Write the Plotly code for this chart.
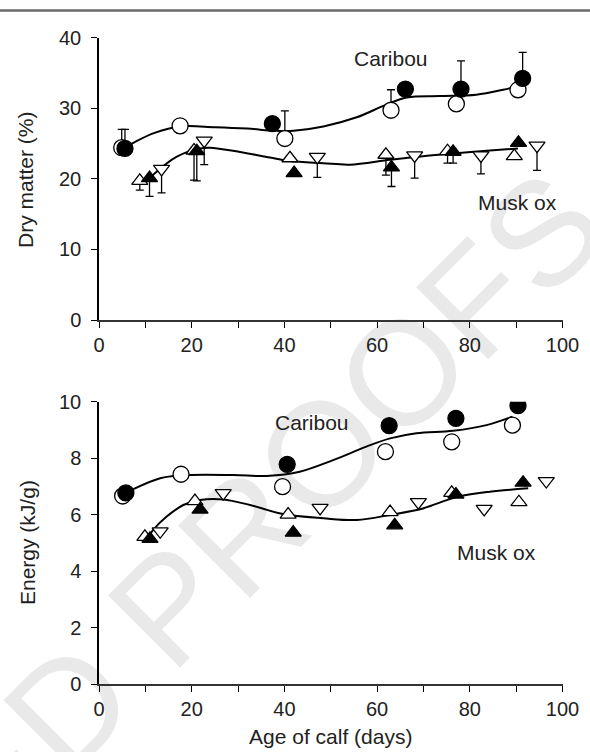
import plotly.graph_objects as go

W, H = 590, 752
FONT = "Liberation Sans, Arial, sans-serif"

# ---------------- data: dry matter (top panel) ----------------
dm_car_fill_x = [5.6, 37.4, 66.1, 78.1, 91.4]
dm_car_fill_y = [24.3, 27.8, 32.7, 32.7, 34.2]
dm_car_fill_up = [2.7, 0, 0, 4.0, 3.7]

dm_car_open_x = [4.9, 17.5, 40.1, 63.0, 77.1, 90.4]
dm_car_open_y = [24.4, 27.5, 25.7, 29.7, 30.6, 32.6]
dm_car_open_up = [2.6, 0, 3.9, 2.9, 0, 0]

dm_mo_tri_x = [10.9, 21.1, 42.1, 63.1, 76.4, 90.5]
dm_mo_tri_y = [20.1, 23.9, 20.8, 21.6, 23.8, 25.1]
dm_mo_tri_dn = [2.6, 4.2, 0, 2.7, 1.6, 0]

dm_mo_up_x = [8.8, 20.5, 41.2, 61.9, 75.2, 89.6]
dm_mo_up_y = [19.7, 24.0, 22.9, 23.4, 23.9, 23.2]
dm_mo_up_dn = [1.3, 4.2, 0, 2.9, 1.7, 0]

dm_mo_dn_x = [13.5, 22.7, 47.1, 68.1, 82.4, 94.5]
dm_mo_dn_y = [21.4, 25.4, 23.1, 23.3, 23.3, 24.7]
dm_mo_dn_dn = [3.4, 3.4, 2.9, 3.2, 2.6, 3.5]

dm_car_fit_x = [5.6, 8, 12, 17.5, 25, 32, 38, 42, 48.4, 55.6, 62, 66.4, 73.5, 81.4, 87.2, 90.4]
dm_car_fit_y = [24.4, 25.3, 26.5, 27.4, 27.3, 27.1, 26.8, 26.8, 27.4, 28.7, 30.5, 31.5, 31.7, 31.9, 32.6, 33.1]

dm_mo_fit_x = [11.5, 12.1, 16.7, 21.8, 23.9, 30.4, 36.9, 41.2, 48.4, 54.1, 62.8, 69.9, 77.1, 84.3, 90.4]
dm_mo_fit_y = [20.4, 20.8, 23.1, 24.3, 24.4, 23.8, 23.0, 22.5, 22.2, 22.0, 22.7, 23.2, 23.6, 24.0, 24.3]

# ---------------- data: energy (bottom panel) ----------------
en_car_fill_x = [5.8, 40.6, 62.6, 77.0, 90.4]
en_car_fill_y = [6.77, 7.78, 9.15, 9.41, 9.86]

en_car_open_x = [5.1, 17.7, 39.6, 61.8, 76.1, 89.2]
en_car_open_y = [6.66, 7.43, 6.99, 8.23, 8.58, 9.17]

en_mo_tri_x = [11.0, 21.8, 41.9, 63.8, 77.0, 91.5]
en_mo_tri_y = [5.14, 6.18, 5.36, 5.62, 6.71, 7.13]

en_mo_up_x = [9.9, 20.7, 40.8, 62.8, 76.1, 90.6]
en_mo_up_y = [5.21, 6.48, 6.00, 6.09, 6.77, 6.44]

en_mo_dn_x = [13.2, 26.8, 47.7, 68.9, 83.1, 96.5]
en_mo_dn_y = [5.41, 6.76, 6.24, 6.44, 6.20, 7.19]

en_car_fit_x = [5.8, 7.4, 13.2, 17.7, 29, 36.2, 43.3, 50.5, 57.7, 62.8, 68.5, 76.4, 83.6, 89.2]
en_car_fit_y = [6.75, 6.90, 7.29, 7.39, 7.40, 7.37, 7.52, 7.93, 8.41, 8.70, 8.88, 8.97, 9.17, 9.47]

en_mo_fit_x = [11.0, 11.7, 14.6, 18.2, 21.8, 26.8, 32.6, 39.7, 48.4, 55.6, 62.8, 69.9, 77.1, 84.3, 92.6]
en_mo_fit_y = [5.30, 5.46, 5.93, 6.34, 6.52, 6.54, 6.34, 6.02, 5.87, 5.81, 5.99, 6.22, 6.62, 6.81, 6.93]

x_ticks = [0, 10, 20, 30, 40, 50, 60, 70, 80, 90, 100]
x_ticktext = ["0", "", "20", "", "40", "", "60", "", "80", "", "100"]
dm_ticks = [0, 10, 20, 30, 40]
en_ticks = [0, 2, 4, 6, 8, 10]


def px(x):
    return x / W


def py(y):
    return 1 - y / H


fig = go.Figure()


def curve(x, y, xa, ya):
    fig.add_trace(go.Scatter(x=x, y=y, mode="lines", xaxis=xa, yaxis=ya,
                             line=dict(color="black", width=2, shape="spline", smoothing=1.0),
                             hoverinfo="skip", showlegend=False))


def pts(x, y, symbol, filled, xa, ya, size, up=None, dn=None):
    err = None
    if up is not None or dn is not None:
        n = len(x)
        err = dict(type="data", symmetric=False,
                   array=up if up is not None else [0] * n,
                   arrayminus=dn if dn is not None else [0] * n,
                   color="black", thickness=1.3, width=4)
    fig.add_trace(go.Scatter(x=x, y=y, mode="markers", xaxis=xa, yaxis=ya,
                             marker=dict(symbol=symbol, size=size,
                                         color="black" if filled else "white",
                                         line=dict(color="black", width=1.3)),
                             error_y=err, showlegend=False))


CS, TS = 16, 14

# top panel
curve(dm_car_fit_x, dm_car_fit_y, "x", "y")
curve(dm_mo_fit_x, dm_mo_fit_y, "x", "y")
pts(dm_car_open_x, dm_car_open_y, "circle", False, "x", "y", CS, up=dm_car_open_up)
pts(dm_car_fill_x, dm_car_fill_y, "circle", True, "x", "y", CS, up=dm_car_fill_up)
pts(dm_mo_up_x, dm_mo_up_y, "triangle-up", False, "x", "y", TS, dn=dm_mo_up_dn)
pts(dm_mo_dn_x, dm_mo_dn_y, "triangle-down", False, "x", "y", TS, dn=dm_mo_dn_dn)
pts(dm_mo_tri_x, dm_mo_tri_y, "triangle-up", True, "x", "y", TS, dn=dm_mo_tri_dn)

# bottom panel
curve(en_car_fit_x, en_car_fit_y, "x2", "y2")
curve(en_mo_fit_x, en_mo_fit_y, "x2", "y2")
pts(en_car_open_x, en_car_open_y, "circle", False, "x2", "y2", CS)
pts(en_car_fill_x, en_car_fill_y, "circle", True, "x2", "y2", CS)
pts(en_mo_up_x, en_mo_up_y, "triangle-up", False, "x2", "y2", TS)
pts(en_mo_dn_x, en_mo_dn_y, "triangle-down", False, "x2", "y2", TS)
pts(en_mo_tri_x, en_mo_tri_y, "triangle-up", True, "x2", "y2", TS)

xdom = [px(99), px(562.5)]
axis_common = dict(showgrid=False, zeroline=False, showline=True, ticks="outside",
                   ticklen=6, tickwidth=1.2, tickcolor="black", automargin=False,
                   tickfont=dict(family=FONT, size=20, color="#222"))

xcommon = dict(axis_common, range=[0, 100], tickmode="array", tickvals=x_ticks,
               ticktext=x_ticktext, linecolor="#333", linewidth=1.5, domain=xdom)

fig.update_layout(
    template="none",
    width=W, height=H, autosize=False,
    margin=dict(l=0, r=0, t=0, b=0, pad=0, autoexpand=False),
    paper_bgcolor="white", plot_bgcolor="rgba(0,0,0,0)",
    showlegend=False,
    font=dict(family=FONT, color="#222"),
    xaxis=dict(xcommon, anchor="y"),
    yaxis=dict(axis_common, range=[0, 40], tickmode="array", tickvals=dm_ticks,
               linecolor="black", linewidth=1.5, anchor="x",
               domain=[py(320), py(37.5)], ticklabelstandoff=6),
    xaxis2=dict(xcommon, anchor="y2"),
    yaxis2=dict(axis_common, range=[0, 10], tickmode="array", tickvals=en_ticks,
                linecolor="black", linewidth=1.5, anchor="x2",
                domain=[py(684), py(401.7)], ticklabelstandoff=6),
)

ann_font = dict(family=FONT, size=21, color="#222")
annotations = [
    dict(text="Caribou", x=px(391), y=py(58)),
    dict(text="Musk ox", x=px(517), y=py(203)),
    dict(text="Caribou", x=px(312), y=py(422)),
    dict(text="Musk ox", x=px(496), y=py(552)),
    dict(text="Dry matter (%)", x=px(25), y=py(180), textangle=-90),
    dict(text="Energy (kJ/g)", x=px(27), y=py(543), textangle=-90),
    dict(text="Age of calf (days)", x=px(330), y=py(736)),
]
for a in annotations:
    fig.add_annotation(xref="paper", yref="paper", showarrow=False,
                       xanchor="center", yanchor="middle", font=ann_font, **a)

# top rule line
fig.add_shape(type="line", xref="paper", yref="paper", x0=0, x1=1, y0=py(10.5), y1=py(10.5),
              line=dict(color="#6b6b6b", width=2.5))

# watermark (drawn below the data)
fig.add_shape(type="rect", xref="paper", yref="paper", layer="below",
              x0=px(258), x1=px(260), y0=py(497), y1=py(495),
              line=dict(width=0), fillcolor="rgba(0,0,0,0)",
              label=dict(text="ED PROOFS", textangle=-45, textposition="middle center",
                         font=dict(family=FONT, size=148, color="#e9e9e9")))

fig.write_html("out.html")
